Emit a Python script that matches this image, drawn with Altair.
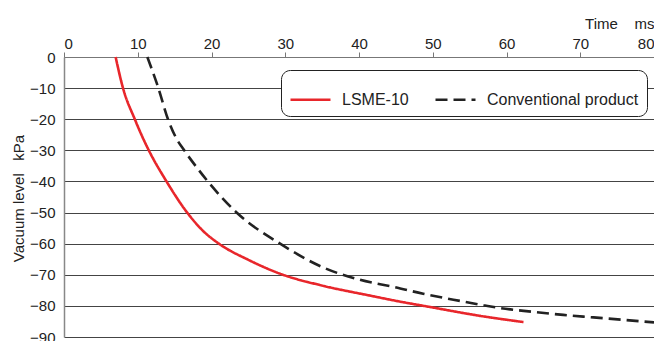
import altair as alt
import pandas as pd

lsme_time = [7.0, 8.0, 9.6, 10.5, 11.5, 13.9, 16.7, 18.9, 21.0, 25.0, 29.7, 34.7, 41.5, 45.5, 49.5, 56.4, 62.3]
lsme_vac = [0, -10, -20, -25, -30, -40, -50, -56, -60, -65.2, -70, -73.3, -76.7, -78.6, -80.3, -83.2, -85.2]

conv_time = [11.3, 12.8, 14.1, 15.2, 16.3, 18.0, 19.5, 23.4, 29.3, 35.1, 40.1, 44.9, 48.7, 52.8, 56.9,
             59.1, 63.6, 67.7, 71.8, 75.9, 80.0]
conv_vac = [0, -10, -20, -26, -30, -35.5, -40, -50, -60, -67.6, -71.6, -74.0, -76.1, -78.0, -79.8,
            -80.7, -81.9, -82.9, -83.7, -84.5, -85.3]

series_names = ["LSME-10", "Conventional product"]
series_colors = ["#e8262b", "#222222"]
series_dashes = [[1, 0], [12, 6]]

x_ticks = [0, 10, 20, 30, 40, 50, 60, 70, 80]
y_ticks = [0, -10, -20, -30, -40, -50, -60, -70, -80, -90]

df = pd.concat([
    pd.DataFrame({"t": lsme_time, "v": lsme_vac, "s": series_names[0]}),
    pd.DataFrame({"t": conv_time, "v": conv_vac, "s": series_names[1]}),
])

FONT = "Liberation Sans"
NB = "\u00a0"

chart = alt.Chart(df).mark_line(strokeWidth=2.6, interpolate="monotone").encode(
    x=alt.X("t:Q", scale=alt.Scale(domain=[0, 80], nice=False),
            axis=alt.Axis(orient="top", values=x_ticks, title="Time" + NB * 4 + "ms",
                          grid=False, domainColor="#777", domainWidth=1.2,
                          tickColor="#777", tickSize=5, labelFontSize=15,
                          labelColor="#222", labelPadding=1, labelFont=FONT,
                          titleFont=FONT, titleFontSize=15, titleFontWeight="normal",
                          titleColor="#222", titleX=590, titleY=-29,
                          titleAlign="right", titleBaseline="alphabetic")),
    y=alt.Y("v:Q", scale=alt.Scale(domain=[-90, 0], nice=False),
            axis=alt.Axis(orient="left", values=y_ticks,
                          title="Vacuum" + NB + "level" + NB * 3 + "kPa",
                          grid=True, gridColor="#444", gridWidth=1,
                          domainColor="#888", domainWidth=1.5, ticks=False,
                          labelFontSize=15, labelColor="#222", labelPadding=9,
                          labelFont=FONT, titleFont=FONT, titleFontSize=15,
                          titleFontWeight="normal", titleColor="#222",
                          titleX=-46, titleY=141, titleAlign="center",
                          titleBaseline="middle")),
    color=alt.Color("s:N", scale=alt.Scale(domain=series_names, range=series_colors),
                    legend=alt.Legend(title=None, orient="none", direction="horizontal",
                                      legendX=217, legendY=13, fillColor="white",
                                      strokeColor="#222", cornerRadius=9, padding=8,
                                      symbolType="stroke", symbolSize=1600,
                                      symbolStrokeWidth=2.6, labelFontSize=16,
                                      labelFont=FONT, labelColor="#222",
                                      labelOffset=10, columnPadding=21)),
    strokeDash=alt.StrokeDash("s:N", scale=alt.Scale(domain=series_names, range=series_dashes),
                              legend=None),
).properties(
    width=590, height=280,
    autosize=alt.AutoSizeParams(type="none"),
    padding={"left": 56, "top": 49, "right": 0, "bottom": 4},
).configure_view(stroke=None)

chart.save("out.html", embed_options={"renderer": "svg", "actions": False})
